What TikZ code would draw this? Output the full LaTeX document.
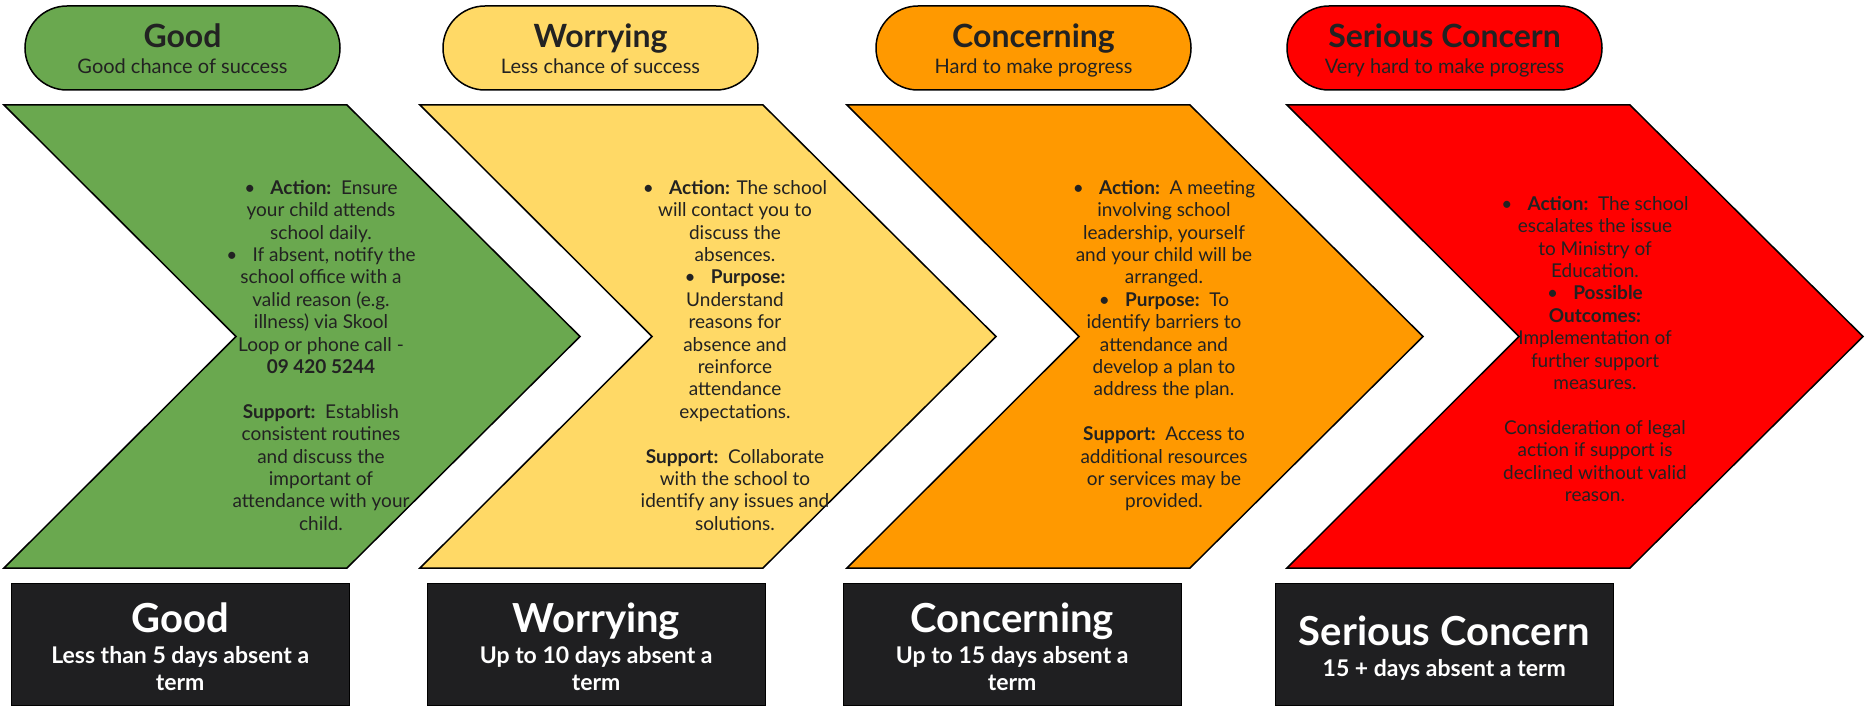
\documentclass[tikz,border=0pt]{standalone}
\usepackage{fontspec}
\setmainfont{Lato}
\definecolor{goodgreen}{HTML}{6AA84F}
\definecolor{worryyellow}{HTML}{FFD966}
\definecolor{concernorange}{HTML}{FF9900}
\definecolor{seriousred}{HTML}{FF0000}
\definecolor{boxblack}{HTML}{1F1F21}
\definecolor{inkgrey}{HTML}{222222}
\tikzset{
	node_pill/.style = {
		draw=black,
		line width=1.5pt,
		rounded corners=42pt,
		minimum width=315pt,
		minimum height=84pt,
		inner sep=0pt,
		align=center,
		text=inkgrey,
		font=\fontsize{20}{26}\selectfont
	},
	node_info/.style = {
		align=center,
		anchor=north,
		inner sep=0pt,
		text=inkgrey,
		font=\fontsize{19}{22.4}\selectfont
	},
	node_days/.style = {
		draw=black,
		fill=boxblack,
		anchor=north west,
		minimum width=338pt,
		minimum height=122pt,
		inner sep=0pt,
		align=center,
		text=white,
		font=\bfseries\fontsize{23}{27}\selectfont
	},
	chev/.style = {
		draw=black,
		line width=1.5pt,
		line join=miter
	}
}
% struts keep the text blocks at the same height in every box
\newcommand{\pilltitle}[1]{{\fontsize{32}{26}\selectfont\bfseries\rule{0pt}{32pt}#1}}
\newcommand{\pillsub}[1]{\rule[-6pt]{0pt}{6pt}#1}
\newcommand{\daytitle}[1]{{\fontsize{40}{32}\selectfont\rule{0pt}{40pt}#1}}
\newcommand{\dayend}{\rule[-6pt]{0pt}{6pt}}
\newcommand{\bul}{\textbullet\hspace{0.8em}}

\begin{document}
\begin{tikzpicture}[x=1pt, y=-1pt]
\useasboundingbox (0,0) rectangle (1866,706);
% chevrons
\foreach \lx/\col in {4/goodgreen, 420/worryyellow, 847/concernorange, 1287/seriousred}
	\draw[chev, fill=\col] (\lx,105) -- ++(343,0) -- ++(233,231.5) -- ++(-233,231.5)
		-- ++(-343,0) -- ++(232,-231.5) -- cycle;
% pills
\node [node_pill, fill=goodgreen] (pill_good) at (182.5,48)
	{\pilltitle{Good}\\\pillsub{Good chance of success}};
\node [node_pill, fill=worryyellow] (pill_worry) at (600.5,48)
	{\pilltitle{Worrying}\\\pillsub{Less chance of success}};
\node [node_pill, fill=concernorange] (pill_concern) at (1033.5,48)
	{\pilltitle{Concerning}\\\pillsub{Hard to make progress}};
\node [node_pill, fill=seriousred] (pill_serious) at (1444.5,48)
	{\pilltitle{Serious Concern}\\\pillsub{Very hard to make progress}};
% chevron texts
\node [node_info] (info_good) at (321,180) {
	\bul\textbf{Action:}\ \ Ensure\\
	your child attends\\
	school daily.\\
	\bul If absent, notify the\\
	school office with a\\
	valid reason (e.g.\\
	illness) via Skool\\
	Loop or phone call -\\
	\textbf{09 420 5244}\\[22.4pt]
	\textbf{Support:}\ \ Establish\\
	consistent routines\\
	and discuss the\\
	important of\\
	attendance with your\\
	child.
};
\node [node_info] (info_worry) at (735,180) {
	\bul\textbf{Action:} The school\\
	will contact you to\\
	discuss the\\
	absences.\\
	\bul\textbf{Purpose:}\\
	Understand\\
	reasons for\\
	absence and\\
	reinforce\\
	attendance\\
	expectations.\\[22.4pt]
	\textbf{Support:}\ \ Collaborate\\
	with the school to\\
	identify any issues and\\
	solutions.
};
\node [node_info] (info_concern) at (1164,180) {
	\bul\textbf{Action:}\ \ A meeting\\
	involving school\\
	leadership, yourself\\
	and your child will be\\
	arranged.\\
	\bul\textbf{Purpose:}\ \ To\\
	identify barriers to\\
	attendance and\\
	develop a plan to\\
	address the plan.\\[22.4pt]
	\textbf{Support:}\ \ Access to\\
	additional resources\\
	or services may be\\
	provided.
};
\node [node_info] (info_serious) at (1595,196) {
	\bul\textbf{Action:}\ \ The school\\
	escalates the issue\\
	to Ministry of\\
	Education.\\
	\bul\textbf{Possible}\\
	\textbf{Outcomes:}\\
	Implementation of\\
	further support\\
	measures.\\[22.4pt]
	Consideration of legal\\
	action if support is\\
	declined without valid\\
	reason.
};
% day boxes
\node [node_days] (days_good) at (11,583)
	{\daytitle{Good}\\[4pt]Less than 5 days absent a\\term\dayend};
\node [node_days] (days_worry) at (427,583)
	{\daytitle{Worrying}\\[4pt]Up to 10 days absent a\\term\dayend};
\node [node_days] (days_concern) at (843,583)
	{\daytitle{Concerning}\\[4pt]Up to 15 days absent a\\term\dayend};
\node [node_days] (days_serious) at (1275,583)
	{\daytitle{Serious Concern}\\[4pt]15 + days absent a term\dayend};
\end{tikzpicture}
\end{document}
